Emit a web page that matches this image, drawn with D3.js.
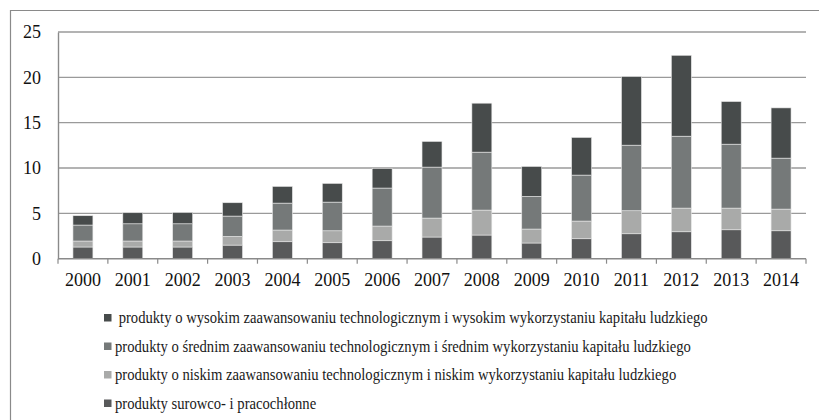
<!DOCTYPE html>
<html lang="pl">
  <head>
    <meta charset="UTF-8" />
    <title>Struktura eksportu</title>
    <script src="https://d3js.org/d3.v7.min.js"></script>
    <style>
      body {
        margin: 0;
        background: #fff;
        font-family: "Liberation Serif", "Times New Roman", serif;
      }
      .grid line {
        stroke: #9a9a9a;
        stroke-width: 1.3px;
      }
    </style>
  </head>
  <body>
    <script>
      // data
      var years = ["2000", "2001", "2002", "2003", "2004", "2005", "2006", "2007",
        "2008", "2009", "2010", "2011", "2012", "2013", "2014"];
      var surowco = [1.29, 1.29, 1.29, 1.5, 1.87, 1.76, 1.98, 2.39, 2.61, 1.73, 2.2, 2.75, 2.97, 3.19, 3.08];
      var niskie = [0.66, 0.66, 0.66, 0.96, 1.29, 1.32, 1.62, 2.09, 2.75, 1.54, 1.95, 2.54, 2.61, 2.39, 2.39];
      var srednie = [1.76, 1.9, 1.9, 2.24, 2.97, 3.16, 4.19, 5.62, 6.39, 3.6, 5.07, 7.23, 7.93, 7.05, 5.62];
      var wysokie = [1.03, 1.22, 1.25, 1.47, 1.84, 2.06, 2.17, 2.83, 5.4, 3.3, 4.15, 7.57, 8.92, 4.7, 5.54];
      var yTicks = [0, 5, 10, 15, 20, 25];

      var seriesNames = [
        "produkty surowco- i pracochłonne",
        "produkty o niskim zaawansowaniu technologicznym i niskim wykorzystaniu kapitału ludzkiego",
        "produkty o średnim zaawansowaniu technologicznym i średnim wykorzystaniu kapitału ludzkiego",
        " produkty o wysokim zaawansowaniu technologicznym i wysokim wykorzystaniu kapitału ludzkiego"
      ];
      var colors = ["#58595a", "#a9aaa9", "#757979", "#474b4b"];

      var table = years.map(function (y, i) {
        return { year: y, s0: surowco[i], s1: niskie[i], s2: srednie[i], s3: wysokie[i] };
      });
      var stack = d3.stack().keys(["s0", "s1", "s2", "s3"])(table);

      var W = 819, H = 420;
      var plot = { left: 58, right: 806, top: 32, bottom: 258.7 };

      var svg = d3.select("body").append("svg")
        .attr("width", W)
        .attr("height", H);

      // outer frame
      svg.append("path")
        .attr("d", "M10.5," + H + "V10.5H" + W)
        .attr("fill", "none")
        .attr("stroke", "#8a8a8a")
        .attr("stroke-width", 1.2);

      var x = d3.scaleBand().domain(years)
        .range([plot.left, plot.right])
        .paddingInner(0.6)
        .paddingOuter(0.3);
      var y = d3.scaleLinear().domain([0, 25]).range([plot.bottom, plot.top]);

      // gridlines
      svg.append("g").attr("class", "grid")
        .selectAll("line")
        .data(yTicks.slice(1))
        .join("line")
        .attr("x1", plot.left)
        .attr("x2", plot.right)
        .attr("y1", function (d) { return y(d); })
        .attr("y2", function (d) { return y(d); });

      // bars
      svg.append("g")
        .selectAll("g")
        .data(stack)
        .join("g")
        .attr("fill", function (d, i) { return colors[i]; })
        .selectAll("rect")
        .data(function (d) { return d; })
        .join("rect")
        .attr("x", function (d) { return x(d.data.year); })
        .attr("width", x.bandwidth())
        .attr("y", function (d) { return y(d[1]); })
        .attr("height", function (d) { return y(d[0]) - y(d[1]); })
        .attr("stroke", "#e6e6e6")
        .attr("stroke-width", 0.6);

      // y axis
      var yAxis = svg.append("g")
        .attr("transform", "translate(" + plot.left + ",0)")
        .call(d3.axisLeft(y).tickValues(yTicks).tickSize(0).tickPadding(17));
      yAxis.select(".domain").attr("stroke", "#8a8a8a").attr("stroke-width", 1.4);
      yAxis.selectAll("text")
        .attr("font-family", "'Liberation Serif', 'Times New Roman', serif")
        .attr("font-size", 18)
        .attr("fill", "#111");

      // x axis: ticks between categories
      var step = x.step();
      var xAxis = svg.append("g").attr("transform", "translate(0," + plot.bottom + ")");
      xAxis.append("line")
        .attr("x1", plot.left).attr("x2", plot.right)
        .attr("stroke", "#8a8a8a").attr("stroke-width", 1.4);
      xAxis.selectAll(".tk")
        .data(d3.range(years.length + 1))
        .join("line")
        .attr("class", "tk")
        .attr("x1", function (k) { return plot.left + k * step; })
        .attr("x2", function (k) { return plot.left + k * step; })
        .attr("y1", 0).attr("y2", 5)
        .attr("stroke", "#8a8a8a").attr("stroke-width", 1.2);
      xAxis.selectAll("text")
        .data(years)
        .join("text")
        .attr("x", function (d) { return x(d) + x.bandwidth() / 2; })
        .attr("y", 27.5)
        .attr("text-anchor", "middle")
        .attr("font-size", 18)
        .attr("fill", "#111")
        .text(function (d) { return d; });

      // legend (top series first); the source font is a narrow Times
      var legendOrder = [3, 2, 1, 0];
      var legend = svg.append("g").selectAll("g")
        .data(legendOrder)
        .join("g")
        .attr("transform", function (d, i) { return "translate(104," + (317.5 + i * 28.5) + ")"; });
      legend.append("rect")
        .attr("x", 0).attr("y", -3.5)
        .attr("width", 7.5).attr("height", 7.5)
        .attr("fill", function (d) { return colors[d]; });
      legend.append("text")
        .attr("transform", "translate(11,5.8) scale(0.915,1)")
        .attr("font-size", 16)
        .attr("fill", "#1a1a1a")
        .style("white-space", "pre")
        .text(function (d) { return seriesNames[d]; });
    </script>
  </body>
</html>
